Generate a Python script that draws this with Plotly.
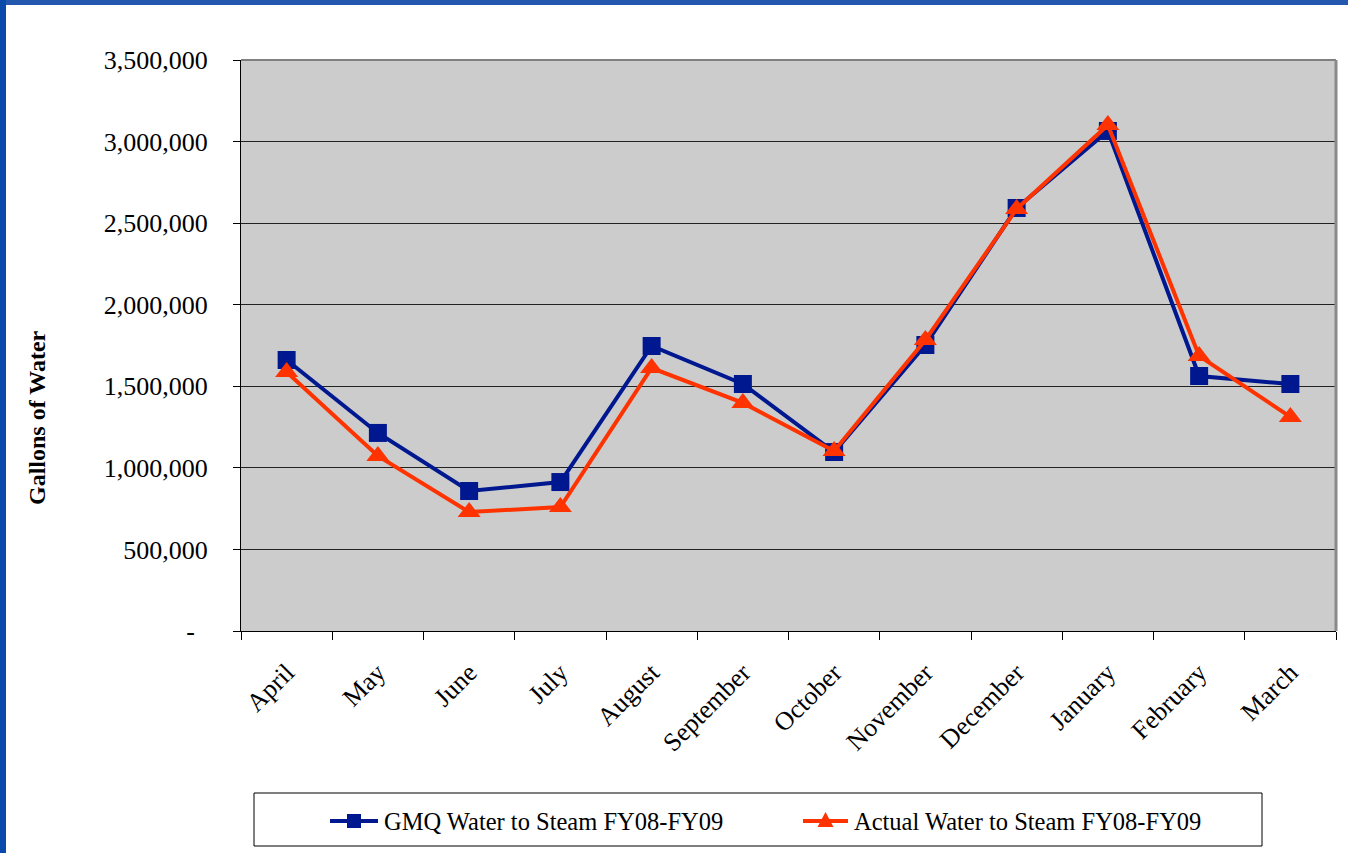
import plotly.graph_objects as go

months = ["April", "May", "June", "July", "August", "September", "October",
          "November", "December", "January", "February", "March"]
gmq_water = [1661000, 1214000, 858000, 913000, 1747000, 1514000, 1097000,
             1753000, 2593000, 3065000, 1563000, 1514000]
actual_water = [1588000, 1073000, 729000, 760000, 1612000, 1398000, 1103000,
                1784000, 2587000, 3102000, 1686000, 1312000]
series_names = ["GMQ Water to Steam FY08-FY09", "Actual Water to Steam FY08-FY09"]
y_tick_vals = [0, 500000, 1000000, 1500000, 2000000, 2500000, 3000000, 3500000]
y_tick_text = ["-\u00a0\u00a0", "500,000", "1,000,000", "1,500,000", "2,000,000",
               "2,500,000", "3,000,000", "3,500,000"]

W, H = 1348, 853
L, R, T, B = 241, 12, 60, 222
PW, PH = W - L - R, H - T - B

BLUE = "#00188F"
RED = "#FF3300"
SERIF = "Liberation Serif"


def px_x(p):
    return (p - L) / PW


def px_y(p):
    return (H - B - p) / PH


fig = go.Figure()
fig.add_trace(go.Scatter(
    x=months, y=gmq_water, mode="lines+markers", name=series_names[0],
    line=dict(color=BLUE, width=4),
    marker=dict(symbol="square", size=18, color=BLUE),
))
fig.add_trace(go.Scatter(
    x=months, y=actual_water, mode="lines+markers", name=series_names[1],
    line=dict(color=RED, width=4),
    marker=dict(symbol="triangle-up", size=20, color=RED),
))

shapes = [
    # slide frame strips
    dict(type="rect", xref="paper", yref="paper", x0=px_x(0), x1=px_x(W),
         y0=px_y(5), y1=px_y(0), fillcolor="#2358AE", line=dict(width=0)),
    dict(type="rect", xref="paper", yref="paper", x0=px_x(0), x1=px_x(6),
         y0=px_y(H), y1=px_y(0), fillcolor="#0A4AAA", line=dict(width=0)),
    # plot area top and right borders
    dict(type="line", xref="paper", yref="paper", x0=0, x1=1, y0=1, y1=1,
         line=dict(color="#808080", width=2)),
    dict(type="line", xref="paper", yref="paper", x0=1, x1=1, y0=0, y1=1,
         line=dict(color="#8A8A8A", width=3)),
    # legend frame
    dict(type="rect", xref="paper", yref="paper", x0=px_x(254), x1=px_x(1262),
         y0=px_y(846), y1=px_y(793), line=dict(color="#000000", width=1),
         fillcolor="rgba(0,0,0,0)"),
]

# legend keys: line sample + marker, followed by the series name
LEG_Y = 821
key_specs = [(330, 378, BLUE, "square"), (803, 848, RED, "triangle")]
annotations = []
for (kx0, kx1, color, sym), name in zip(key_specs, series_names):
    shapes.append(dict(type="line", xref="paper", yref="paper",
                       x0=px_x(kx0), x1=px_x(kx1), y0=px_y(LEG_Y), y1=px_y(LEG_Y),
                       line=dict(color=color, width=4)))
    cx = (kx0 + kx1) / 2
    if sym == "square":
        s = 7
        shapes.append(dict(type="rect", xref="paper", yref="paper",
                           x0=px_x(cx - s), x1=px_x(cx + s),
                           y0=px_y(LEG_Y + s), y1=px_y(LEG_Y - s),
                           fillcolor=color, line=dict(width=0)))
    else:
        path = (f"M {px_x(cx - 8)},{px_y(LEG_Y + 6)} "
                f"L {px_x(cx + 8)},{px_y(LEG_Y + 6)} "
                f"L {px_x(cx)},{px_y(LEG_Y - 9)} Z")
        shapes.append(dict(type="path", xref="paper", yref="paper", path=path,
                           fillcolor=color, line=dict(width=0)))
    annotations.append(dict(text=name, xref="paper", yref="paper",
                            x=px_x(kx1 + 4), y=px_y(LEG_Y),
                            xanchor="left", yanchor="middle", showarrow=False,
                            font=dict(family=SERIF, size=24.5, color="black")))

annotations.append(dict(text="<b>Gallons of Water</b>", textangle=-90,
                        xref="paper", yref="paper", x=px_x(37), y=px_y(418),
                        xanchor="center", yanchor="middle", showarrow=False,
                        font=dict(family=SERIF, size=24, color="black")))

fig.update_layout(
    width=W, height=H,
    margin=dict(l=L, r=R, t=T, b=B),
    paper_bgcolor="white",
    plot_bgcolor="#CCCCCC",
    font=dict(family=SERIF, color="black"),
    shapes=shapes,
    annotations=annotations,
    showlegend=False,
    xaxis=dict(
        type="category", range=[-0.5, 11.5],
        showline=True, linecolor="black", linewidth=1,
        ticks="outside", tickson="boundaries", ticklen=8, tickcolor="black",
        tickangle=-45, tickfont=dict(family=SERIF, size=26),
        ticklabelstandoff=15,
        showgrid=False, zeroline=False,
    ),
    yaxis=dict(
        range=[0, 3500000], tickvals=y_tick_vals, ticktext=y_tick_text,
        showline=True, linecolor="black", linewidth=1,
        ticks="outside", ticklen=7, tickcolor="black",
        ticklabelstandoff=20,
        tickfont=dict(family=SERIF, size=26),
        showgrid=True, gridcolor="#222222", gridwidth=1, zeroline=False,
    ),
)

fig.write_html("out.html")
